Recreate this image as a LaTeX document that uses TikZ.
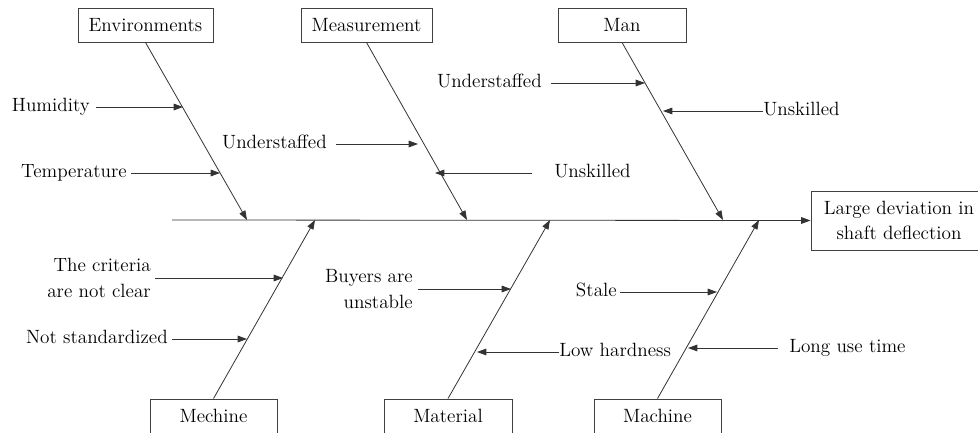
\documentclass[tikz,border=0pt]{standalone}
\usetikzlibrary{arrows.meta}
\begin{document}
\begin{tikzpicture}[x=0.75pt,y=-0.75pt,
  ln/.style={draw=black!80, line width=0.6pt},
  arr/.style={ln, -{Triangle[length=7pt,width=5pt]}},
  txt/.style={font=\fontsize{14.4}{18}\selectfont},
  cat/.style={txt, draw=black!75, line width=0.7pt, minimum height=25.5pt, inner sep=0pt},
  lbl/.style={txt, inner ysep=0pt, text height=10pt, text depth=3pt},
  ml/.style={inner ysep=0pt, align=right, font=\fontsize{14.4}{19.5}\selectfont},
]
\useasboundingbox (0,0) rectangle (978,432);

% category boxes
\node[cat, minimum width=101.25pt] (env)  at (145.5,25) {Environments};
\node[cat, minimum width=98.25pt]  (meas) at (366.5,25) {Measurement};
\node[cat, minimum width=96pt]     (man)  at (622,25)   {Man};
\node[cat, minimum width=95.25pt]  (mech) at (213.5,416) {Mechine};
\node[cat, minimum width=96pt]     (mat)  at (448,416)   {Material};
\node[cat, minimum width=95.25pt]  (mach) at (657.5,416) {Machine};

% effect
\node[draw=black!75, line width=0.7pt, minimum width=132pt, minimum height=44.25pt,
      align=center, inner sep=0pt, font=\fontsize{14.4}{18.75}\selectfont] (eff) at (899,220.5)
      {Large deviation in\\shaft deflection};

% spine
\coordinate (sp0) at (172,220);
\draw[arr] (sp0) -- (eff.west);

% bone tips
\coordinate (b1) at (247,220);
\coordinate (b2) at (467,220);
\coordinate (b3) at (723,220);
\coordinate (b4) at (315,220);
\coordinate (b5) at (550,220);
\coordinate (b6) at (759,220);

\draw[arr] (env.south) -- (b1);
\draw[arr] (meas.south) -- (b2);
\draw[arr] (man.south) -- (b3);
\draw[arr] (mech.north) -- (b4);
\draw[arr] (mat.north) -- (b5);
\draw[arr] (mach.north) -- (b6);

% cause labels
\node[lbl, anchor=east, inner xsep=4.5pt] (hum) at (96,107) {Humidity};
\coordinate (tHum) at (183,107);
\draw[arr] (hum.east) -- (tHum);

\node[lbl, anchor=east, inner xsep=3pt] (temp) at (131,173) {Temperature};
\coordinate (tTemp) at (220,173);
\draw[arr] (temp.east) -- (tTemp);

\node[lbl, anchor=east, inner xsep=6.75pt] (und1) at (336,144) {Understaffed};
\coordinate (tUnd1) at (418,144);
\draw[arr] (und1.east) -- (tUnd1);

\node[lbl, anchor=west, inner xsep=16.5pt] (uns1) at (532,173) {Unskilled};
\coordinate (tUns1) at (435,173);
\draw[arr] (uns1.west) -- (tUns1);

\node[lbl, anchor=east, inner xsep=6.75pt] (und2) at (551,83) {Understaffed};
\coordinate (tUnd2) at (645,83);
\draw[arr] (und2.east) -- (tUnd2);

\node[lbl, anchor=west, inner xsep=0pt] (uns2) at (763,111) {Unskilled};
\coordinate (tUns2) at (663,111);
\draw[arr] (uns2.west) -- (tUns2);

\node[ml, anchor=east, inner xsep=3pt] (crit) at (155,278) {The criteria\\are not clear};
\coordinate (tCrit) at (283,278);
\draw[arr] (crit.east) -- (tCrit);

\node[lbl, anchor=east, inner xsep=3pt] (nstd) at (172,339) {Not standardized};
\coordinate (tNstd) at (247,339);
\draw[arr] (nstd.east) -- (tNstd);

\node[ml, anchor=east, inner xsep=3.75pt] (buy) at (418,289) {Buyers are\\unstable};
\coordinate (tBuy) at (511,289);
\draw[arr] (buy.east) -- (tBuy);

\node[lbl, anchor=west, inner xsep=0pt] (low) at (559,352) {Low hardness};
\coordinate (tLow) at (477,352);
\draw[arr] (low.west) -- (tLow);

\node[lbl, anchor=east, inner xsep=2.25pt] (stale) at (620,292) {Stale};
\coordinate (tStale) at (717,292);
\draw[arr] (stale.east) -- (tStale);

\node[lbl, anchor=west, inner xsep=8.25pt] (long) at (778,348) {Long use time};
\coordinate (tLong) at (688,348);
\draw[arr] (long.west) -- (tLong);

\end{tikzpicture}
\end{document}
